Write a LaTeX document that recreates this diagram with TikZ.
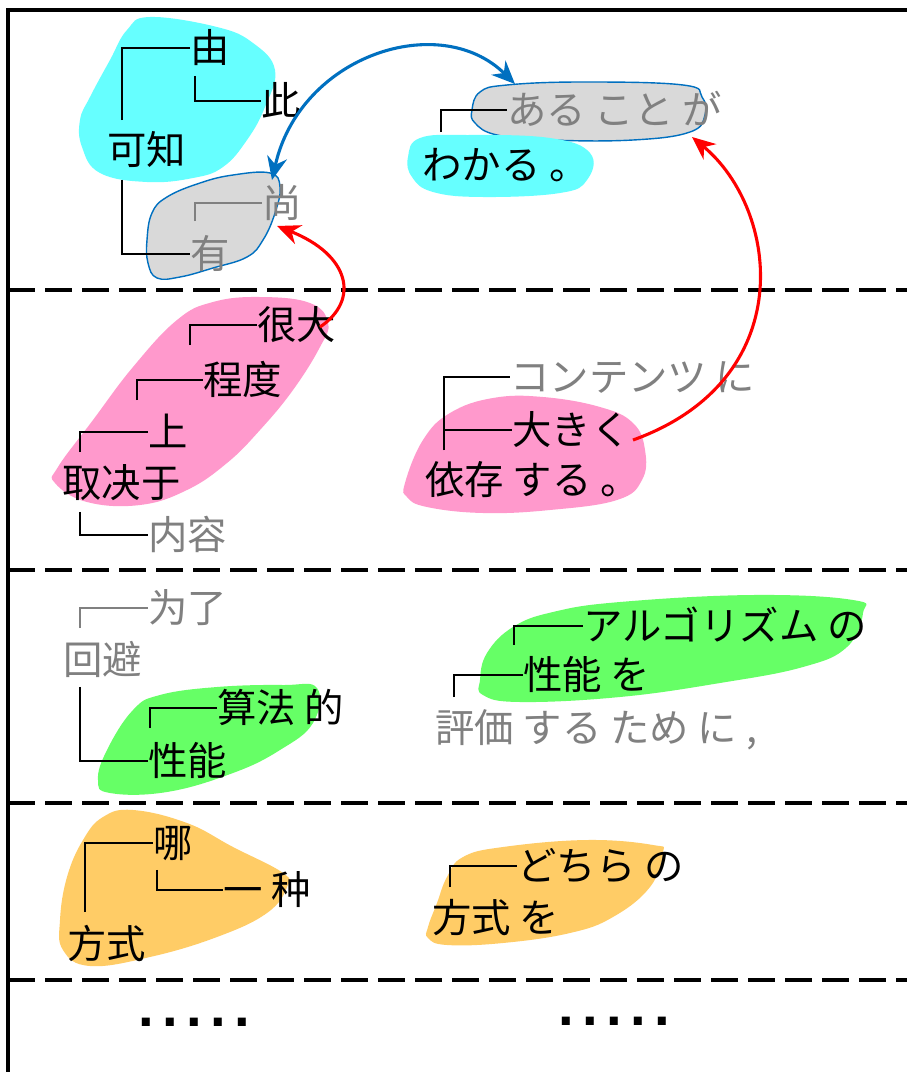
\documentclass[tikz,border=0pt]{standalone}
\usepackage{fontspec}
\setmainfont{Liberation Sans}
\newfontfamily\zhfont{Noto Sans CJK SC}
\newfontfamily\jafont{Noto Sans CJK JP}
\usetikzlibrary{arrows.meta, positioning, calc, backgrounds}

\definecolor{hlcyan}{HTML}{66FFFF}
\definecolor{hlgray}{HTML}{D9D9D9}
\definecolor{hlpink}{HTML}{FF99CC}
\definecolor{hlgreen}{HTML}{66FF66}
\definecolor{hlorange}{HTML}{FFCC66}
\definecolor{linkblue}{HTML}{0070C0}
\definecolor{linkred}{HTML}{FF0000}
\definecolor{faintgray}{HTML}{808080}

\begin{document}
\begin{tikzpicture}[
        x=0.025cm, y=-0.025cm,
        % Global Styles
        word/.style={inner sep=0pt, anchor=west, text height=24.6pt, text depth=3.4pt, font=\fontsize{28}{28}\selectfont\zhfont},
        jword/.style={word, font=\fontsize{28}{28}\selectfont\jafont},
        faint/.style={text=faintgray},
        dots/.style={inner sep=0pt, anchor=west, font=\fontsize{40}{40}\selectfont\bfseries\addfontfeature{LetterSpace=15}},
        tree/.style={draw, line width=0.9pt}, % Dependency bracket
        both/.style={draw=linkblue, line width=2.2pt, {Stealth[length=0.58cm, width=0.5cm]}-{Stealth[length=0.58cm, width=0.5cm]}},
        back/.style={draw=linkred, line width=2.2pt, -{Stealth[length=0.58cm, width=0.5cm]}},
        frame/.style={draw, line width=2.5pt},
        rowsep/.style={draw, line width=2.2pt, dash pattern=on 0.675cm off 0.25cm}
    ]

    \useasboundingbox (0,0) rectangle (907,1072);

    % --- Nodes ---

    % 1. Row one: 由此可知 / わかる
    \node [word] (you) at (190,48) {由};
    \node [word] (ci) at (261,101) {此};
    \node [word] (kezhi) at (107,150) {可知};
    \node [word, faint] (shang) at (262,203) {尚};
    \node [word, faint] (youA) at (190,254) {有};

    \node [jword, faint] (aru) at (507,110) {ある こと が};
    \node [jword] (wakaru) at (422,165) {わかる 。};

    % 2. Row two: 取决于 / 依存する
    \node [word] (henda) at (257,325) {很大};
    \node [word] (chengdu) at (203,380) {程度};
    \node [word] (shangmian) at (148,432) {上};
    \node [word] (qujue) at (62,483) {取决于};
    \node [word, faint] (neirong) at (148,535) {内容};

    \node [jword, faint] (kontentsu) at (510,377) {コンテンツ に};
    \node [jword] (ookiku) at (512,430) {大きく};
    \node [jword] (izon) at (425,480) {依存 する 。};

    % 3. Row three: 回避 / 評価する
    \node [word, faint] (weile) at (148,608) {为了};
    \node [word, faint] (huibi) at (63,660) {回避};
    \node [word] (suanfa) at (217,708) {算法 的};
    \node [word] (xingneng) at (148,761) {性能};

    \node [jword] (algo) at (583,626) {アルゴリズム の};
    \node [jword] (seino) at (523,675) {性能 を};
    \node [jword, faint] (hyoka) at (435,728) {評価 する ため に ,};

    % 4. Row four: 方式
    \node [word] (na) at (153,843) {哪};
    \node [word] (yizhong) at (223,890) {一 种};
    \node [word] (fangshi) at (67,944) {方式};

    \node [jword] (dochira) at (517,866) {どちら の};
    \node [jword] (hoshiki) at (432,918) {方式 を};

    % 5. Row five
    \node [dots] (moreL) at (138,1022) {.....};
    \node [dots] (moreR) at (558,1021) {.....};

    % --- Paths ---

    % Frame and row separators
    \draw [frame] (907,10) -- (8,10) -- (8,1072);
    \foreach \y in {290,570,803,980}
        \draw [rowsep] (8,\y) -- (907,\y);

    % Dependency brackets
    \draw [tree] (kezhi.north west) ++(15,-10) |- (you.west);
    \draw [tree] (you.south west) ++(5,8) |- (ci.west);
    \draw [tree] (kezhi.south west) ++(15,10) |- (youA.west);
    \draw [tree, faintgray] (youA.north west) ++(5,-13) |- (shang.west);
    \draw [tree] (wakaru.north west) ++(19,-13) |- (aru.west);

    \draw [tree] (qujue.north west) ++(18,-11) |- (shangmian.west);
    \draw [tree] (shangmian.north west) ++(-11,-12) |- (chengdu.west);
    \draw [tree] (chengdu.north west) ++(-13,-15) |- (henda.west);
    \draw [tree] (qujue.south west) ++(18,9) |- (neirong.west);
    \draw [tree] (izon.north west) ++(19,-10) |- (kontentsu.west);
    \draw [tree] (izon.north west) ++(19,-10) |- (ookiku.west);

    \draw [tree, faintgray] (huibi.north west) ++(17,-12) |- (weile.west);
    \draw [tree] (huibi.south west) ++(17,7) |- (xingneng.west);
    \draw [tree] (xingneng.north west) ++(2,-13) |- (suanfa.west);
    \draw [tree] (seino.north west) ++(-9,-10) |- (algo.west);
    \draw [tree] (hyoka.north west) ++(19,-11) |- (seino.west);

    \draw [tree] (fangshi.north west) ++(18,-12) |- (na.west);
    \draw [tree] (na.south west) ++(4,7) |- (yizhong.west);
    \draw [tree] (hoshiki.north west) ++(18,-11) |- (dochira.west);

    % Alignment links (ends on the blob outlines)
    \coordinate (grayA-top) at (272,180);
    \coordinate (grayA-right) at (277,226);
    \coordinate (grayB-left) at (515,84);
    \coordinate (grayB-low) at (692,137);
    \coordinate (pinkA-tip) at (320,327);
    \coordinate (pinkB-right) at (633,440);

    \draw [both] (grayA-top) .. controls (300,55) and (440,10) .. (grayB-left);
    \draw [back] (pinkA-tip) .. controls (360,300) and (350,255) .. (grayA-right);
    \draw [back] (pinkB-right) .. controls (800,380) and (780,210) .. (grayB-low);

    % Highlight blobs
    \begin{scope}[on background layer]
        \fill [white] (0,0) rectangle (907,1072);
        \fill [hlcyan] plot [smooth cycle, tension=0.7] coordinates {(150,17) (217,27) (253,43) (275,70) (265,107) (247,140) (223,167) (193,178) (147,182) (100,173) (82,147) (80,120) (90,97) (110,60) (127,30)};
        \filldraw [fill=hlgray, draw=linkblue, line width=1pt] plot [smooth cycle, tension=0.7] coordinates {(147,240) (152,213) (167,197) (200,183) (233,175) (270,173) (280,187) (275,213) (263,240) (247,257) (213,268) (180,277) (157,278) (148,263)};
        \filldraw [fill=hlgray, draw=linkblue, line width=1pt] plot [smooth cycle, tension=0.7] coordinates {(472,110) (480,92) (507,85) (583,82) (683,85) (702,97) (705,115) (690,132) (633,140) (550,140) (497,135) (475,123)};
        \fill [hlcyan] plot [smooth cycle, tension=0.7] coordinates {(408,157) (420,138) (467,135) (550,138) (590,153) (587,180) (560,193) (483,197) (433,192) (412,177)};
        \fill [hlpink] plot [smooth cycle, tension=0.7] coordinates {(260,297) (310,303) (328,323) (320,347) (293,390) (260,430) (227,463) (187,490) (140,505) (87,502) (55,483) (58,467) (93,420) (133,367) (177,320) (213,302)};
        \fill [hlpink] plot [smooth cycle, tension=0.7] coordinates {(405,483) (423,440) (450,413) (493,398) (543,397) (600,407) (633,423) (645,450) (642,480) (617,500) (550,510) (483,513) (427,507) (407,497)};
        \fill [hlgreen] plot [smooth cycle, tension=0.7] coordinates {(317,688) (313,723) (280,750) (233,773) (167,792) (110,793) (98,780) (107,750) (133,710) (160,695) (217,687) (283,685)};
        \fill [hlgreen] plot [smooth cycle, tension=0.7] coordinates {(480,680) (487,653) (513,627) (553,612) (620,602) (753,595) (853,600) (863,613) (847,647) (803,667) (720,683) (620,697) (520,702) (483,695)};
        \fill [hlorange] plot [smooth cycle, tension=0.7] coordinates {(133,810) (187,823) (233,847) (283,873) (287,887) (267,913) (217,937) (150,957) (90,966) (63,950) (60,920) (67,877) (83,840) (103,817)};
        \fill [hlorange] plot [smooth cycle, tension=0.7] coordinates {(428,927) (437,903) (447,877) (463,857) (503,847) (587,840) (653,845) (663,853) (650,887) (613,917) (570,933) (503,943) (447,945) (428,938)};
    \end{scope}

\end{tikzpicture}
\end{document}
